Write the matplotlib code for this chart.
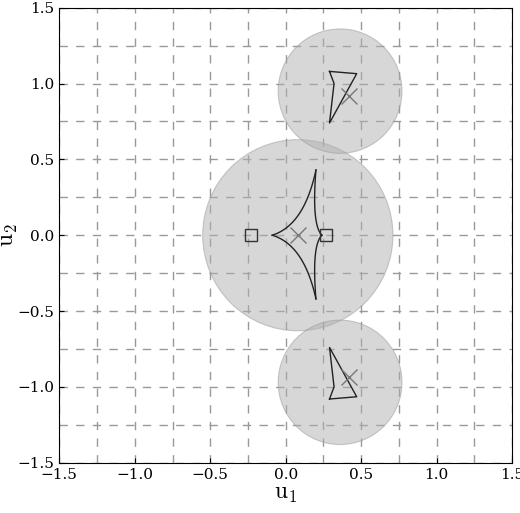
import numpy as np
import matplotlib
matplotlib.use("Agg")
import matplotlib.pyplot as plt

plt.rcParams['mathtext.fontset'] = 'cm'
plt.rcParams['font.family'] = 'DejaVu Serif'

circ_x = [0.08, 0.36, 0.36]
circ_y = [0.0, 0.95, -0.97]
circ_r = [0.63, 0.41, 0.41]
# central caustic cusps: left, top, right, bottom
cusp_x = [-0.09, 0.20, 0.24, 0.20]
cusp_y = [0.0, 0.43, 0.0, -0.42]
sq_x = [-0.23, 0.265]; sq_y = [0.0, 0.0]
cross_x = [0.08, 0.42, 0.42]; cross_y = [0.0, 0.915, -0.935]
tri_x = [0.29, 0.47, 0.29]; tri_y = [1.08, 1.065, 0.74]

fig = plt.figure(figsize=(5.2, 5.13), dpi=100)
ax = fig.add_axes([0.114, 0.098, 0.871, 0.887])
for cx, cy, r in zip(circ_x, circ_y, circ_r):
    ax.add_patch(plt.Circle((cx, cy), r, facecolor='#b0b0b0', alpha=0.5, edgecolor='#999999', lw=0.8, zorder=1))

def bez(p0, p1, c, n=60):
    t = np.linspace(0, 1, n)[:, None]
    return (1-t)**2*np.array(p0) + 2*(1-t)*t*np.array(c) + t**2*np.array(p1)

ctr = (0.15, 0.0)
pts = list(zip(cusp_x, cusp_y))
for i in range(4):
    a, b = pts[i], pts[(i+1) % 4]
    c = (0.7*ctr[0] + 0.15*(a[0]+b[0]), 0.7*ctr[1] + 0.15*(a[1]+b[1]))
    seg = bez(a, b, c)
    ax.plot(seg[:, 0], seg[:, 1], color='#222222', lw=1.0, zorder=3)

for s in (1, -1):
    ty = [s*v for v in tri_y]
    ax.plot([tri_x[0], tri_x[1], tri_x[2], tri_x[0]+0.03, tri_x[0]],
            [ty[0], ty[1], ty[2], s*1.0, ty[0]], color='#222222', lw=1.0, zorder=3)

ax.plot(sq_x, sq_y, 's', mfc='none', mec='#333333', ms=8, mew=1.0, zorder=4)
ax.plot(cross_x, cross_y, 'x', color='#777777', ms=12, mew=1.0, zorder=4)

ax.set_xlim(-1.5, 1.5); ax.set_ylim(-1.5, 1.5)
ticks = np.arange(-1.5, 1.51, 0.5)
ax.set_xticks(ticks); ax.set_yticks(ticks)
ax.set_xticks(np.arange(-1.5, 1.51, 0.25), minor=True)
ax.set_yticks(np.arange(-1.5, 1.51, 0.25), minor=True)
ax.grid(True, which='both', color='#999999', ls=(0, (6, 6)), lw=1.0, zorder=0)
ax.set_axisbelow(True)
ax.tick_params(labelsize=11, direction='in')
ax.tick_params(which='minor', length=0)
ax.set_xlabel(r'$\mathrm{u}_1$', fontsize=17, labelpad=0)
ax.set_ylabel(r'$\mathrm{u}_2$', fontsize=17, labelpad=-2)
fig.savefig('out.png')
